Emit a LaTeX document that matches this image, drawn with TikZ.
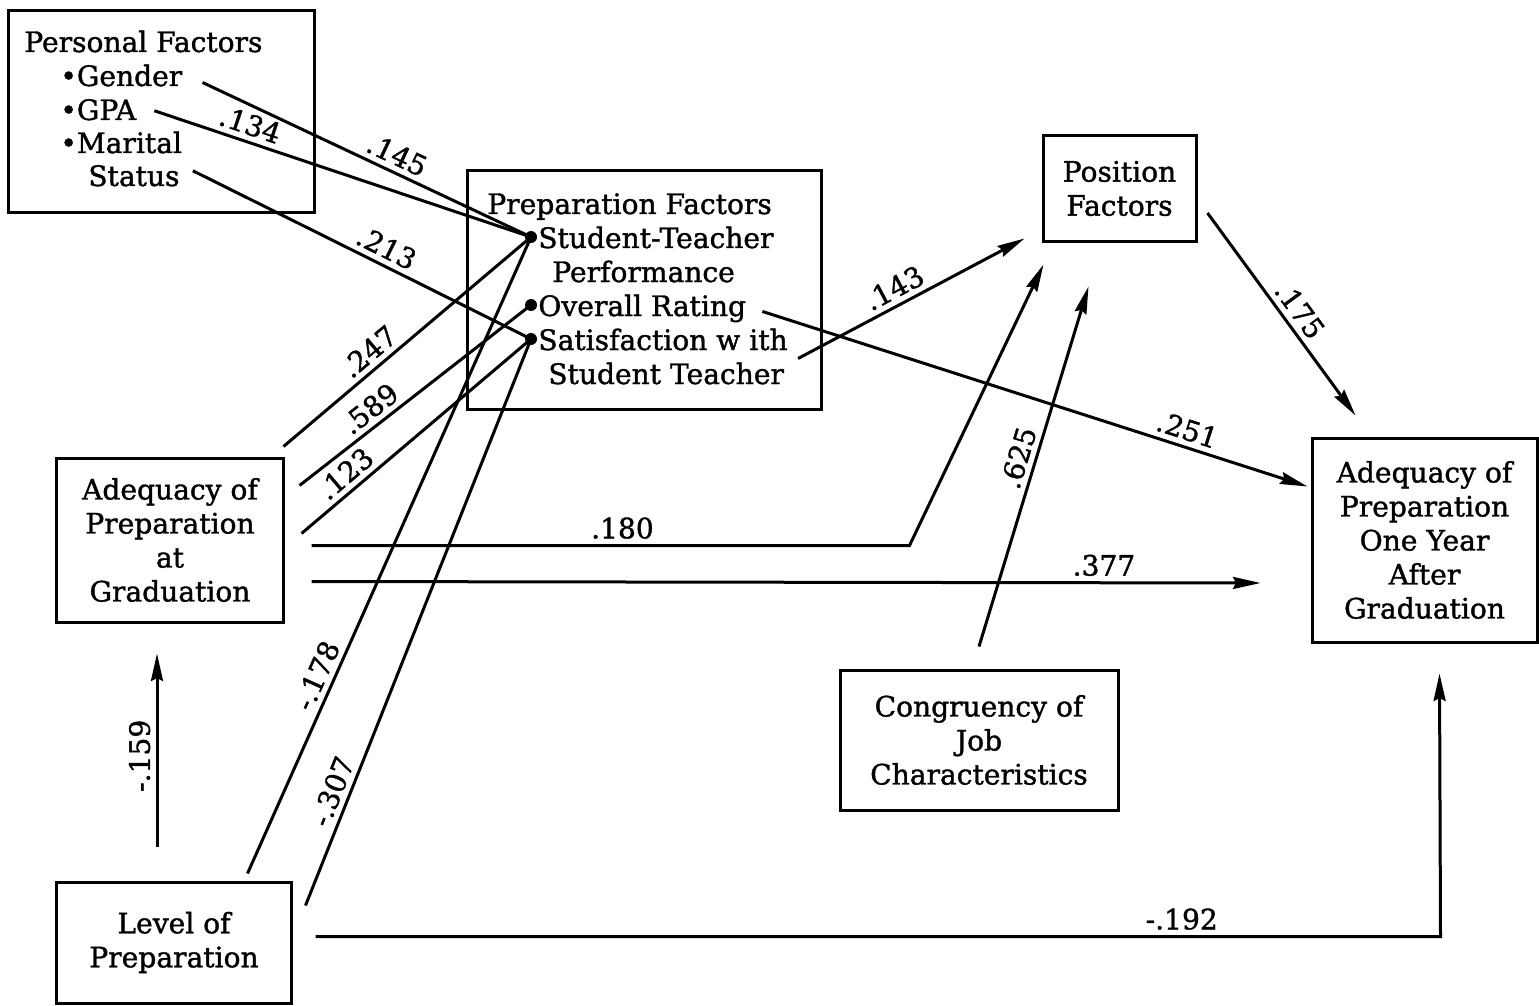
\documentclass[tikz,border=0pt]{standalone}
\usepackage{fontspec}
\setmainfont[FakeBold=1.3]{DejaVu Serif}
\usetikzlibrary{arrows.meta,calc}

\tikzset{
  box/.style={draw, line width=0.6mm, inner sep=0, align=center},
  txt/.style={anchor=base west, inner sep=0},
  dot/.style={circle, fill, inner sep=0, minimum size=2.4mm},
  link/.style={line width=0.6mm},
  arr/.style={link, -{Stealth[length=5.5mm,width=2.4mm,inset=0.6mm]}},
  lab/.style={sloped, above, inner sep=3pt}
}

\begin{document}
\begin{tikzpicture}[x=0.2mm, y=-0.2mm, font=\fontsize{16}{19.35}\selectfont]
\useasboundingbox (0,0) rectangle (1539,1006);

% === TOP LEFT: Personal factors ===
\node[box, minimum width=61mm, minimum height=40.2mm] (per) at (161.5,111.5) {};
\node[txt] (pft) at (24,52) {Personal Factors};
\node[txt] (gen) at (60,86) {\textbullet Gender};
\node[txt] (gpa) at (60,120) {\textbullet GPA};
\node[txt] (mar) at (60,153) {\textbullet Marital};
\node[txt] (sts) at (88,186) {Status};

% === MIDDLE: Preparation factors ===
\node[box, minimum width=70.8mm, minimum height=47.6mm] (prp) at (644,290) {};
\node[txt] (prt) at (487,214) {Preparation Factors};
\node[dot] (stp) at (531,237) {};
\node[txt] (stt) at (538,248) {Student-Teacher};
\node[txt] (pfm) at (552,282) {Performance};
\node[dot] (ovr) at (531,305) {};
\node[txt] (ovt) at (538,316) {Overall Rating};
\node[dot] (sat) at (531,339) {};
\node[txt] (sft) at (538,350) {Satisfaction w ith};
\node[txt] (stc) at (548,384) {Student Teacher};

% === other boxes ===
\node[box, minimum width=30.6mm, minimum height=21mm] (pos) at (1119.5,188.5) {Position\\Factors};
\node[box, minimum width=45.2mm, minimum height=32.8mm] (adg) at (170,540) {Adequacy of\\Preparation\\at\\Graduation};
\node[box, minimum width=45mm, minimum height=40.8mm] (ady) at (1424.5,540) {Adequacy of\\Preparation\\One Year\\After\\Graduation};
\node[box, minimum width=55.6mm, minimum height=28mm] (cng) at (979,740) {Congruency of\\Job\\Characteristics};
\node[box, minimum width=46.8mm, minimum height=24.2mm] (lvl) at (174,942.5) {Level of\\Preparation};

% personal factors -> preparation factors
\draw[link] ($(gen.east)+(20,7)$) -- node[lab, pos=.57] {.145} (stp.center);
\draw[link] ($(gpa.east)+(18,1)$) -- node[lab, pos=.24] {.134} (stp.center);
\draw[link] ($(sts.east)+(13,-5)$) -- node[lab, pos=.55] {.213} (sat.center);

% adequacy at graduation
\draw[link] ($(adg.north east)+(-1,-10)$) -- node[lab, pos=.39] {.247} (stp.center);
\draw[link] ($(adg.north east)+(15,29)$) -- node[lab, pos=.35] {.589} (ovr.center);
\draw[link] ($(adg.north east)+(17,77)$) -- node[lab, pos=.24] {.123} (sat.center);
\draw[arr] ($(adg.north east)+(27,89)$) -- node[lab, pos=.52] {.180} ++(598,0) -- ($(pos.south west)+(2,22)$);
\draw[arr] ($(adg.north east)+(27,125)$) -- node[lab, pos=.835] {.377} ($(ady.west)+(-50,43)$);

% level of preparation
\draw[arr] ($(lvl.north)+(-17,-34)$) -- node[lab, pos=.47] {-.159} ($(adg.south)+(-13,30)$);
\draw[link] ($(lvl.north east)+(-45,-7)$) -- node[lab, pos=.30] {-.178} (stp.center);
\draw[link] ($(lvl.north east)+(13,25)$) -- node[lab, pos=.19] {-.307} (sat.center);
\draw[arr] ($(lvl.east)+(23,-6)$) -- node[lab, pos=.77] {-.192} ++(1125,0) -- ($(ady.south)+(15,30)$);

% right side
\draw[arr] ($(sft.east)+(10,19)$) -- node[lab, pos=.46] {.143} ($(pos.south west)+(-17,-4)$);
\draw[arr] ($(ovt.east)+(16,3)$) -- node[lab, pos=.77] {.251} ($(ady.north west)+(-3,50)$);
\draw[arr] ($(cng.north)+(0,-22)$) -- node[lab, pos=.51] {.625} ($(pos.south)+(-31,44)$);
\draw[arr] ($(pos.east)+(10,24.5)$) -- node[lab, pos=.53] {.175} ($(ady.north west)+(45,-21)$);

\end{tikzpicture}
\end{document}
